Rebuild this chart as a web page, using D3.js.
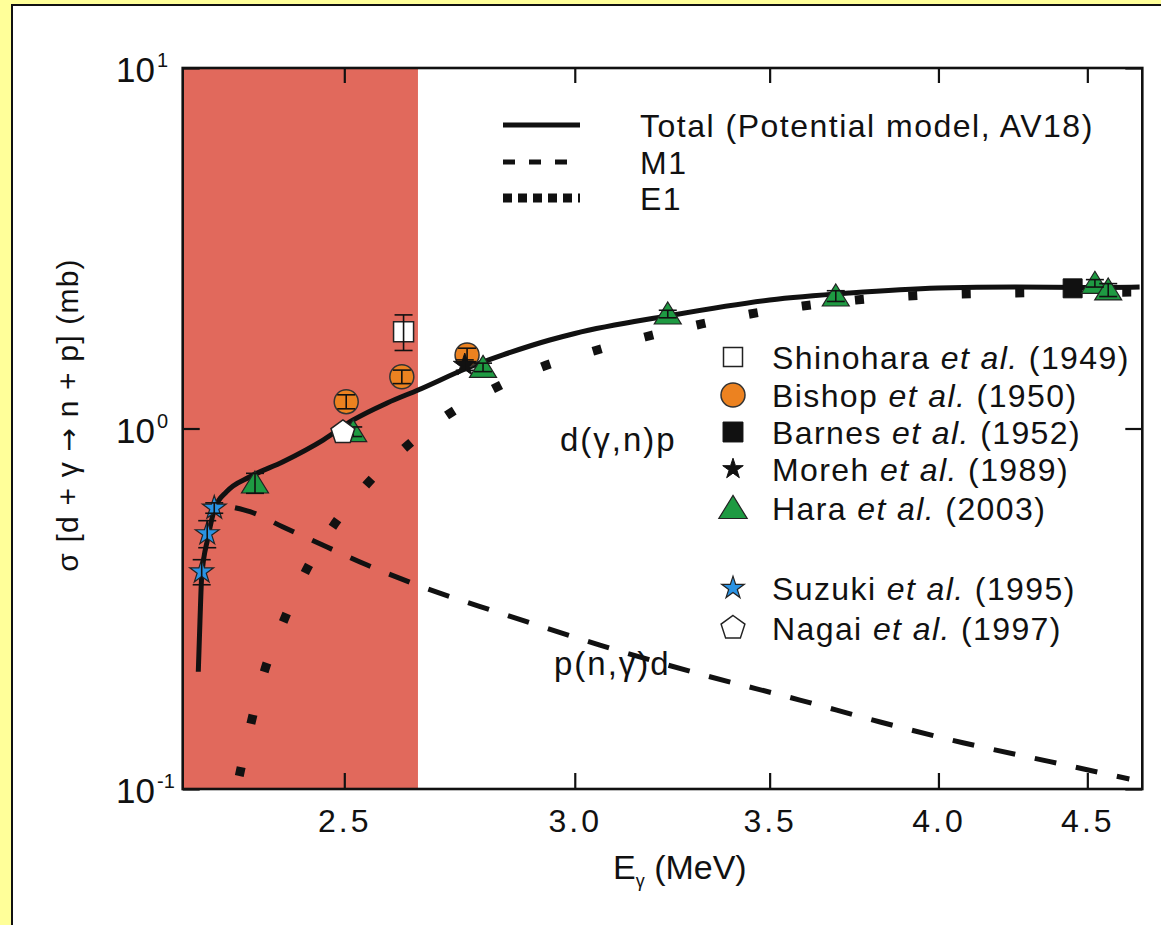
<!DOCTYPE html>
<html><head><meta charset="utf-8">
<script src="https://cdn.jsdelivr.net/npm/d3@7"></script>
<style>html,body{margin:0;padding:0;background:#ffff99;}svg{display:block;}</style>
</head><body>
<svg id="chart" width="1161" height="925"></svg>
<script>
// ---------- data ----------
const totalE     = [2.2273, 2.2303, 2.2333, 2.2444, 2.2569, 2.2778, 2.3203, 2.3818, 2.4584, 2.5177, 2.5862, 2.6503, 2.7612, 2.8343, 2.9414, 3.0, 3.227, 3.5, 3.729, 4.0, 4.25, 4.5, 4.69];
const totalSigma = [0.2115, 0.294, 0.388, 0.498, 0.602, 0.668, 0.735, 0.809, 0.929, 1.056, 1.177, 1.279, 1.481, 1.600, 1.760, 1.835, 2.051, 2.272, 2.376, 2.453, 2.47, 2.461, 2.47];
const m1E     = [2.2929, 2.3203, 2.3818, 2.4661, 2.5456, 2.6483, 2.8276, 3.0603, 3.3125, 3.5848, 3.8198, 4.0782, 4.3692, 4.652];
const m1Sigma = [0.603, 0.588, 0.533, 0.469, 0.418, 0.368, 0.3078, 0.2508, 0.2084, 0.1765, 0.1534, 0.1344, 0.1191, 0.1066];
const e1E     = [2.3007, 2.3221, 2.3466, 2.3822, 2.4234, 2.4772, 2.5436, 2.6212, 2.7093, 2.8104, 2.9201, 3.0459, 3.1712, 3.3046, 3.4463, 3.5933, 3.7471, 3.9045, 4.0718, 4.2426, 4.69];
const e1Sigma = [0.1087, 0.1522, 0.2115, 0.2911, 0.398, 0.534, 0.697, 0.881, 1.083, 1.284, 1.478, 1.641, 1.794, 1.937, 2.078, 2.187, 2.272, 2.331, 2.361, 2.376, 2.39];

const shinoharaE = [2.620], shinoharaSigma = [1.856], shinoharaErr = [0.21];
const bishopE = [2.5038, 2.6164, 2.755], bishopSigma = [1.187, 1.392, 1.600], bishopErr = [0.053, 0.06, 0.07];
const barnesE = [4.448], barnesSigma = [2.448];
const morehE = [2.750], morehSigma = [1.500], morehErr = [0.05];
const haraE = [2.3295, 2.5177, 2.790, 3.229, 3.688, 4.527, 4.575];
const haraSigma = [0.706, 0.980, 1.478, 2.078, 2.331, 2.528, 2.423];
const haraErr = [0.045, 0.03, 0.04, 0.05, 0.08, 0.06, 0.1];
const suzukiE = [2.2333, 2.2431, 2.2556], suzukiSigma = [0.4006, 0.511, 0.602], suzukiErr = [0.032, 0.044, 0.02];
const nagaiE = [2.4972], nagaiSigma = [0.975];

const xTicks = [2.5, 3.0, 3.5, 4.0, 4.5];
const yTicks = [0.1, 1, 10];
const yTickExp = ["-1", "0", "1"];
const shadeRange = [2.2, 2.65];

const legendLines = ["Total (Potential model, AV18)", "M1", "E1"];
const legendMarkers = [
  {name: "Shinohara", year: "(1949)", type: "opensquare"},
  {name: "Bishop", year: "(1950)", type: "circle"},
  {name: "Barnes", year: "(1952)", type: "square"},
  {name: "Moreh", year: "(1989)", type: "blackstar"},
  {name: "Hara", year: "(2003)", type: "triangle"},
  {name: "Suzuki", year: "(1995)", type: "bluestar"},
  {name: "Nagai", year: "(1997)", type: "pentagon"}
];

(function () {
const svg = d3.select("#chart");
const FONT = "'Liberation Sans', Arial, Helvetica, sans-serif";
const pL = 182.7, pR = 1142.3, pT = 68, pB = 789;
const x = d3.scaleLog().domain([2.2, 4.7]).range([pL, pR]);
const y = d3.scaleLog().domain([0.1, 10]).range([pB, pT]);

svg.append("rect").attr("x", 0).attr("y", 0).attr("width", 1161).attr("height", 925).attr("fill", "#ffff99");
svg.append("rect").attr("x", 12).attr("y", 5).attr("width", 1170).attr("height", 940)
  .attr("fill", "#ffffff").attr("stroke", "#111").attr("stroke-width", 2);

svg.append("rect").attr("x", x(shadeRange[0])).attr("y", pT)
  .attr("width", x(shadeRange[1]) - x(shadeRange[0])).attr("height", pB - pT)
  .attr("fill", "#e1695c");

const clip = svg.append("clipPath").attr("id", "plotclip");
clip.append("rect").attr("x", pL).attr("y", pT).attr("width", pR - pL).attr("height", pB - pT);
const plot = svg.append("g").attr("clip-path", "url(#plotclip)");

const line = d3.line().x(d => x(d[0])).y(d => y(d[1])).curve(d3.curveMonotoneX);
const zip = (a, b) => a.map((v, i) => [v, b[i]]);

plot.append("path").datum(zip(e1E, e1Sigma)).attr("d", line)
  .attr("fill", "none").attr("stroke", "#111").attr("stroke-width", 9)
  .attr("stroke-dasharray", "9,44.5");
plot.append("path").datum(zip(m1E, m1Sigma)).attr("d", line)
  .attr("fill", "none").attr("stroke", "#111").attr("stroke-width", 5)
  .attr("stroke-dasharray", "22,20");
plot.append("path").datum(zip(totalE, totalSigma)).attr("d", line)
  .attr("fill", "none").attr("stroke", "#111").attr("stroke-width", 5);

function pentagonPath(r) {
  const pts = d3.range(5).map(i => {
    const a = -Math.PI / 2 + i * 2 * Math.PI / 5;
    return [r * Math.cos(a), r * Math.sin(a)];
  });
  return "M" + pts.map(p => p.join(",")).join("L") + "Z";
}
function markerPath(type, scale) {
  const s = scale || 1;
  switch (type) {
    case "opensquare": return d3.symbol(d3.symbolSquare, 400 * s * s)();
    case "square": return d3.symbol(d3.symbolSquare, 360 * s * s)();
    case "circle": return d3.symbol(d3.symbolCircle, Math.PI * 12 * 12 * s * s)();
    case "blackstar": return d3.symbol(d3.symbolStar, (12 * s) * (12 * s) / 0.8908130915292852)();
    case "bluestar": return d3.symbol(d3.symbolStar, (12.5 * s) * (12.5 * s) / 0.8908130915292852)();
    case "triangle": {
      const w = 13.5 * s, h1 = 12 * s, h2 = 10 * s;
      return `M0,${-h1}L${w},${h2}L${-w},${h2}Z`;
    }
    case "pentagon": return pentagonPath(12.5 * s);
  }
}
const styles = {
  opensquare: {fill: "#ffffff", stroke: "#222", sw: 1.5},
  square: {fill: "#111", stroke: "#111", sw: 1},
  circle: {fill: "#ec8220", stroke: "#333", sw: 1.5},
  blackstar: {fill: "#111", stroke: "#111", sw: 1},
  triangle: {fill: "#1e9a42", stroke: "#222", sw: 1.2},
  bluestar: {fill: "#2a93e4", stroke: "#222", sw: 1.2},
  pentagon: {fill: "#ffffff", stroke: "#222", sw: 1.5}
};

const markerLayer = svg.append("g");
function drawSet(E, S, type, err) {
  const st = styles[type];
  const g = markerLayer.append("g");
  g.selectAll("path").data(zip(E, S)).join("path")
    .attr("transform", d => `translate(${x(d[0])},${y(d[1])})`)
    .attr("d", markerPath(type))
    .attr("fill", st.fill).attr("stroke", st.stroke).attr("stroke-width", st.sw);
  if (err) {
    const eb = g.append("g").attr("stroke", "#111").attr("stroke-width", 1.6);
    E.forEach((e, i) => {
      const cx = x(e), y1 = y(S[i] + err[i]), y2 = y(S[i] - err[i]);
      eb.append("line").attr("x1", cx).attr("x2", cx).attr("y1", y1).attr("y2", y2);
      eb.append("line").attr("x1", cx - 9).attr("x2", cx + 9).attr("y1", y1).attr("y2", y1);
      eb.append("line").attr("x1", cx - 9).attr("x2", cx + 9).attr("y1", y2).attr("y2", y2);
    });
  }
}
drawSet(shinoharaE, shinoharaSigma, "opensquare", shinoharaErr);
drawSet(bishopE, bishopSigma, "circle", bishopErr);
drawSet(barnesE, barnesSigma, "square", null);
drawSet(morehE, morehSigma, "blackstar", morehErr);
drawSet(haraE, haraSigma, "triangle", haraErr);
drawSet(suzukiE, suzukiSigma, "bluestar", suzukiErr);
drawSet(nagaiE, nagaiSigma, "pentagon", null);

const axG = svg.append("g").attr("font-family", FONT);
const bAxis = axG.append("g").attr("transform", `translate(0,${pB})`)
  .call(d3.axisBottom(x).tickValues(xTicks).tickSize(-16).tickPadding(20).tickFormat(d3.format(".1f")));
axG.append("g").attr("transform", `translate(0,${pT})`)
  .call(d3.axisTop(x).tickValues(xTicks).tickSize(-15).tickFormat(""));
axG.append("g").attr("transform", `translate(${pL},0)`)
  .call(d3.axisLeft(y).tickValues(yTicks).tickSize(-17).tickFormat(""));
axG.append("g").attr("transform", `translate(${pR},0)`)
  .call(d3.axisRight(y).tickValues(yTicks).tickSize(-17).tickFormat(""));
axG.selectAll(".domain").attr("stroke", "none");
axG.selectAll(".tick line").attr("stroke", "#111").attr("stroke-width", 2.2);
bAxis.selectAll("text").attr("font-size", 32).attr("fill", "#111").attr("letter-spacing", 3)
  .attr("font-family", FONT);
svg.append("rect").attr("x", pL).attr("y", pT).attr("width", pR - pL).attr("height", pB - pT)
  .attr("fill", "none").attr("stroke", "#111").attr("stroke-width", 2.6);

yTicks.forEach((v, i) => {
  svg.append("text").attr("font-family", FONT).attr("fill", "#111")
    .attr("x", 155).attr("y", y(v) + 14).attr("text-anchor", "end").attr("font-size", 35).text("10");
  svg.append("text").attr("font-family", FONT).attr("fill", "#111")
    .attr("x", 157).attr("y", y(v) - 1).attr("font-size", 20).text(yTickExp[i]);
});

const yl = svg.append("text").attr("font-family", FONT).attr("font-size", 30).attr("fill", "#111")
  .attr("letter-spacing", 1.2).attr("text-anchor", "middle")
  .attr("transform", "translate(78,415) rotate(-90)");
yl.append("tspan").text("σ [d + γ ");
yl.append("tspan").attr("font-family", "'DejaVu Sans', sans-serif").attr("font-size", 28).text("→");
yl.append("tspan").text(" n + p] (mb)");

const xl = svg.append("text").attr("font-family", FONT).attr("fill", "#111").attr("x", 613).attr("y", 879);
xl.append("tspan").attr("font-size", 34).text("E");
xl.append("tspan").attr("font-size", 18).attr("dy", 8).text("γ");
xl.append("tspan").attr("font-size", 34).attr("dy", -8).text(" (MeV)");

svg.append("text").attr("font-family", FONT).attr("font-size", 33).attr("fill", "#111")
  .attr("letter-spacing", 2).attr("x", 560).attr("y", 451).text("d(γ,n)p");
svg.append("text").attr("font-family", FONT).attr("font-size", 33).attr("fill", "#111")
  .attr("letter-spacing", 2).attr("x", 554).attr("y", 675).text("p(n,γ)d");

const lineRowsY = [125, 162, 198];
const lineDash = [null, "12,14", "9,6"];
const lineWidth = [5, 5, 9];
legendLines.forEach((lab, i) => {
  svg.append("line").attr("x1", 503).attr("x2", i === 1 ? 572 : 580)
    .attr("y1", lineRowsY[i]).attr("y2", lineRowsY[i])
    .attr("stroke", "#111").attr("stroke-width", lineWidth[i])
    .attr("stroke-dasharray", lineDash[i]);
  svg.append("text").attr("font-family", FONT).attr("font-size", 32).attr("fill", "#111")
    .attr("letter-spacing", 1.5).attr("x", 640).attr("y", lineRowsY[i] + 11.5).text(lab);
});

const markerRowsY = [357, 395, 432, 469, 508, 588, 628];
legendMarkers.forEach((m, i) => {
  const st = styles[m.type];
  const sc = {opensquare: 0.95, circle: 1.0, square: 1.05, blackstar: 0.9, triangle: 1.05, bluestar: 0.95, pentagon: 1.0}[m.type];
  svg.append("path").attr("transform", `translate(733,${markerRowsY[i]})`)
    .attr("d", markerPath(m.type, sc))
    .attr("fill", st.fill).attr("stroke", st.stroke).attr("stroke-width", st.sw);
  const t = svg.append("text").attr("font-family", FONT).attr("font-size", 32).attr("fill", "#111")
    .attr("letter-spacing", 1.4).attr("x", 772).attr("y", markerRowsY[i] + 11.5);
  t.append("tspan").text(m.name + " ");
  t.append("tspan").attr("font-style", "italic").text("et al.");
  t.append("tspan").text(" " + m.year);
});
})();
</script>
</body></html>
